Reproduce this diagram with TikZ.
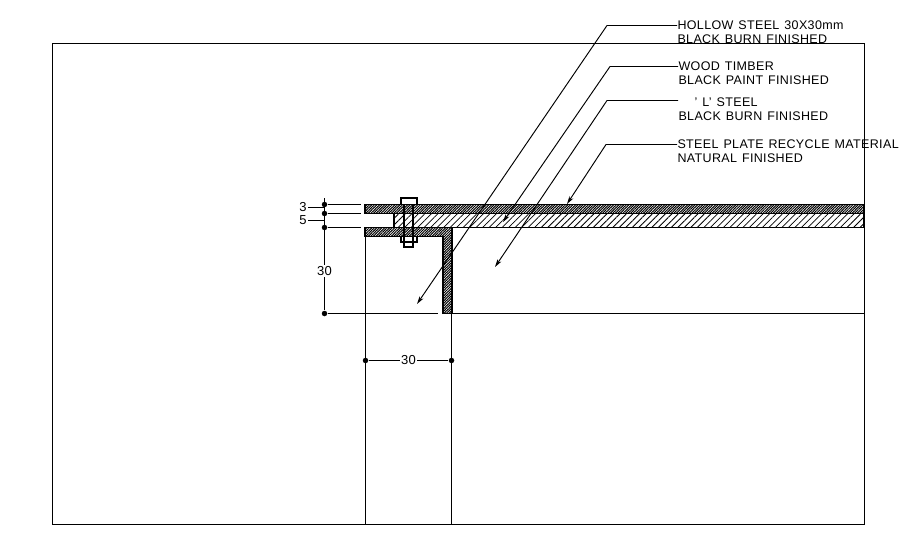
\documentclass[tikz,border=0pt]{standalone}
\usepackage{fontspec}
\setmainfont[LetterSpace=2.8,WordSpace=1.3]{Liberation Sans}
\usetikzlibrary{arrows.meta,patterns.meta}

\tikzset{
 note/.style = {anchor=west, inner sep=0pt, align=left, font=\fontsize{12.5}{14}\selectfont},
 dimtext/.style = {fill=white, inner sep=1pt, font=\fontsize{13}{14}\selectfont},
 dimdot/.style = {circle, fill=black, inner sep=0pt, minimum size=5.5pt},
 leader/.style = {line width=0.95pt, -{Stealth[length=8pt,width=4.5pt]}},
 dense/.style = {pattern={Lines[angle=45,distance=1.8pt,line width=1.05pt]}},
 wood/.style = {pattern={Lines[angle=45,distance=4.6pt,line width=0.8pt]}}
}

\begin{document}
\begin{tikzpicture}[x=1pt, y=-1pt, line width=1.1pt]
 \useasboundingbox (0, 0) rectangle (906, 541);

 % notes
 \node [note] (hollow) at (677, 32.5) {HOLLOW STEEL 30X30mm\\BLACK BURN FINISHED};
 \node [note] (timber) at (678, 73) {WOOD TIMBER\\BLACK PAINT FINISHED};
 \node [note] (lsteel) at (678, 109) {\hspace{16pt}' L' STEEL\\BLACK BURN FINISHED};
 \node [note] (plate) at (677, 151.5) {STEEL PLATE RECYCLE MATERIAL\\NATURAL FINISHED};

 \draw (52.5, 43.5) rectangle (864.5, 524.5);

 % plate, timber, angle
 \draw [dense] (365, 204.5) rectangle (864, 213.5);
 \draw [wood] (394, 213.5) rectangle (864, 227.5);
 \draw [dense] (365, 227.5) -- (452, 227.5) -- (452, 313.5) -- (443, 313.5) -- (443, 236.5) -- (365, 236.5) -- cycle;

 % bolt
 \draw (401, 204) -- (401, 198) -- (417, 198) -- (417, 204);
 \draw (404, 204) -- (404, 247) -- (413, 247) -- (413, 204);
 \draw (401, 236) -- (401, 242) -- (417, 242) -- (417, 236);

 % post
 \draw (365.5, 236) -- (365.5, 524);
 \draw (451.5, 313) -- (451.5, 524);
 \draw (443, 313.5) -- (864, 313.5);

 % dimensions
 \node [dimdot] (d3a) at (324.5, 204.5) {};
 \node [dimdot] (d3b) at (324.5, 213.5) {};
 \node [dimdot] (d5b) at (324.5, 227.5) {};
 \node [dimdot] (d30) at (324.5, 313.5) {};
 \coordinate (dtop) at (324.5, 198);
 \draw (dtop) -- (d30);
 \draw (d3a) -- (361, 204.5);
 \draw (d3b) -- (361, 213.5);
 \draw (d5b) -- (361, 227.5);
 \draw (d30) -- (438, 313.5);
 \node [dimtext, inner sep=0pt] (n3) at (303, 207.5) {3};
 \node [dimtext, inner sep=0pt] (n5) at (303, 220.5) {5};
 \draw (n3) ++(5, 0) -- (324, 207.5);
 \draw (n5) ++(5, 0) -- (324, 220.5);
 \node [dimtext] (v30) at (324.5, 271) {30};

 \node [dimdot] (wl) at (365.5, 360.5) {};
 \node [dimdot] (wr) at (451.5, 360.5) {};
 \draw (wl) -- (wr) node [dimtext, midway] (w30) {30};

 % leaders
 \coordinate (tiphollow) at (417, 304);
 \coordinate (tiptimber) at (503, 222);
 \coordinate (tiplsteel) at (495, 267);
 \coordinate (tipplate) at (567, 204);
 \draw [leader] (hollow.west |- 0, 25.5) -- (607, 25.5) -- (tiphollow);
 \draw [leader] (timber.west |- 0, 66.5) -- (610, 66.5) -- (tiptimber);
 \draw [leader] (lsteel.west |- 0, 100.5) -- (607, 100.5) -- (tiplsteel);
 \draw [leader] (plate.west |- 0, 144.5) -- (606, 144.5) -- (tipplate);
\end{tikzpicture}
\end{document}
